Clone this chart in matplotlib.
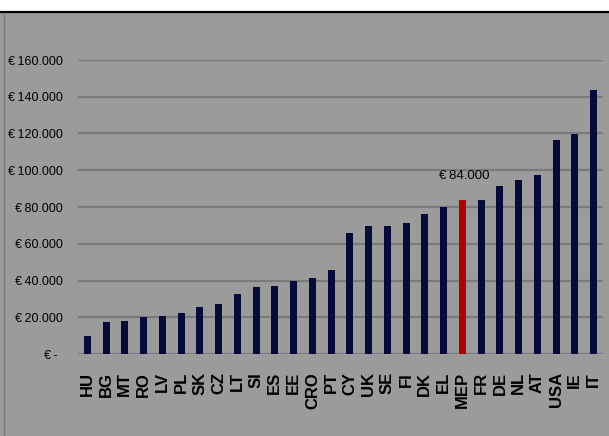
import matplotlib.pyplot as plt
from matplotlib.patches import Rectangle
from matplotlib.lines import Line2D
from matplotlib.ticker import FuncFormatter

# data
countries = ['HU', 'BG', 'MT', 'RO', 'LV', 'PL', 'SK', 'CZ', 'LT', 'SI', 'ES', 'EE', 'CRO', 'PT',
             'CY', 'UK', 'SE', 'FI', 'DK', 'EL', 'MEP', 'FR', 'DE', 'NL', 'AT', 'USA', 'IE', 'IT']
salaries = [10000, 17500, 17700, 20000, 20800, 22500, 25800, 27200, 32600, 36500, 37000, 39800,
            41500, 45800, 65800, 69800, 69800, 71400, 76000, 80000, 84000, 84000, 91700, 94600,
            97400, 116300, 119800, 143800]
highlight = 'MEP'
y_ticks = [0, 20000, 40000, 60000, 80000, 100000, 120000, 140000, 160000]

bg = '#9b9b9b'
navy = '#060a38'
red = '#b00000'

plt.rcParams['font.family'] = ['Liberation Sans', 'DejaVu Sans']


def euro(v):
    if v == 0:
        return '€\u2009-\u2009\u2009'
    return '€\u2009' + f'{int(v):,}'.replace(',', '.')


fig = plt.figure(figsize=(6.09, 4.36), dpi=100)
fig.patch.set_facecolor('white')

# grey panel with the black top rule and thin left rule
fig.add_artist(Rectangle((0, 0), 1, 1 - 13 / 436, transform=fig.transFigure,
                         facecolor=bg, edgecolor='none', zorder=0))
fig.add_artist(Line2D([0, 1], [1 - 12.5 / 436] * 2, transform=fig.transFigure,
                      color='black', lw=1.6))
fig.add_artist(Line2D([3.5 / 609] * 2, [0, 1 - 13 / 436], transform=fig.transFigure,
                      color='#7a7a7a', lw=1.0))

ax = fig.add_axes([78 / 609, 1 - 354 / 436, 525 / 609, (354 - 60) / 436])
ax.set_facecolor('none')

colors = [red if c == highlight else navy for c in countries]
x = list(range(len(countries)))
ax.bar(x, salaries, width=0.37, color=colors, zorder=3)

ax.set_xlim(-0.5, len(countries) - 0.5)
ax.set_ylim(0, 160000)
ax.set_yticks(y_ticks)
ax.yaxis.set_major_formatter(FuncFormatter(lambda v, p: euro(v)))
ax.grid(axis='y', color='#7a7a7a', lw=1.6, zorder=1)
ax.tick_params(axis='y', length=0, pad=11, labelsize=9, labelcolor='black')

ax.set_xticks(x)
ax.set_xticklabels(countries, rotation=90, fontsize=12, fontweight='bold', va='top', ha='center')
ax.tick_params(axis='x', length=0, pad=13)

for s in ax.spines.values():
    s.set_visible(False)

mi = countries.index(highlight)
ax.annotate(euro(salaries[mi]), (mi, salaries[mi]),
            xytext=(1, 13), textcoords='offset points', ha='center', va='bottom',
            fontsize=9.5, color='black')

fig.savefig('out.png', dpi=100)
